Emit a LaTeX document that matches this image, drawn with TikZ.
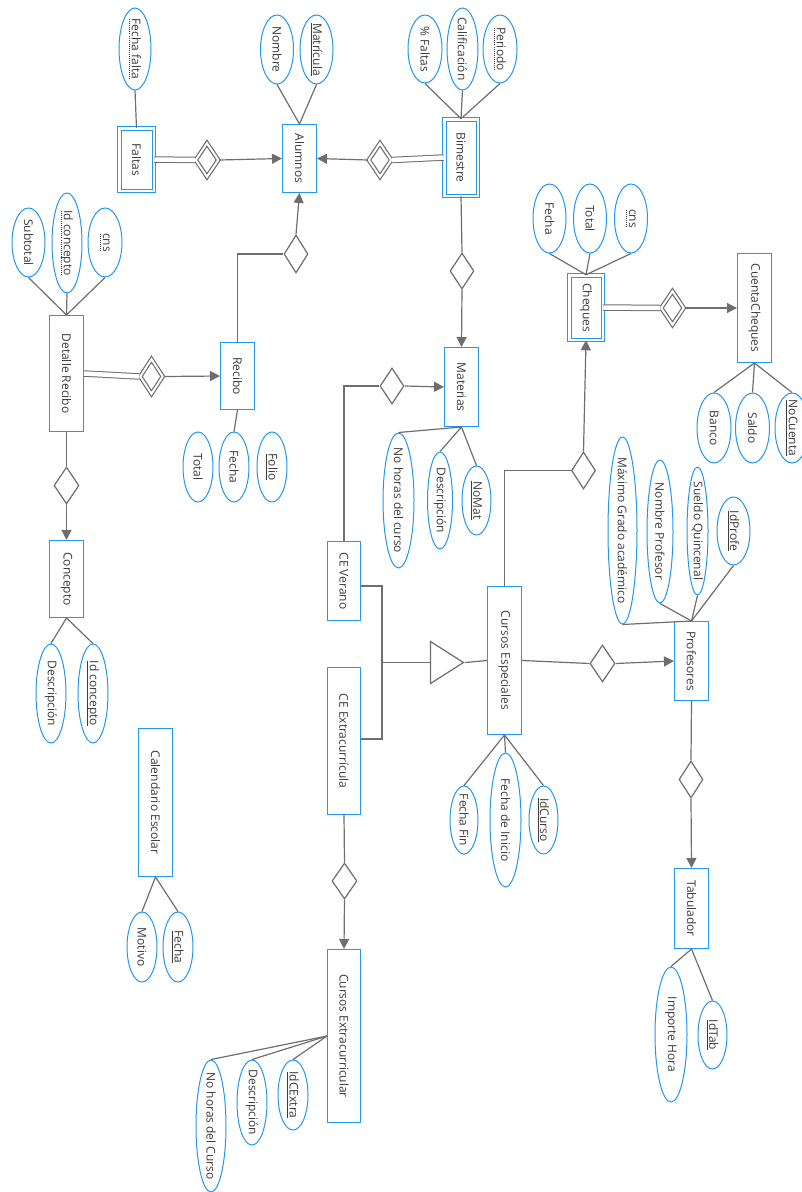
\documentclass[tikz,border=0pt]{standalone}
\usepackage{fontspec}
\setmainfont{Open Sans}
\usetikzlibrary{shapes.geometric,arrows.meta}

\definecolor{erblue}{RGB}{33,150,243}
\definecolor{ergray}{RGB}{110,110,110}
\definecolor{ertext}{RGB}{60,60,60}

\newsavebox{\ulbox}
\newcommand{\vtext}[1]{\rotatebox{-90}{\makebox[0pt]{#1}}}
\newcommand{\pk}[1]{\sbox{\ulbox}{#1}\rlap{\lower2.5pt\hbox{\vrule width\wd\ulbox height 0.7pt}}\usebox{\ulbox}}
\newcommand{\wk}[1]{\sbox{\ulbox}{#1}\rlap{\lower3pt\hbox to \wd\ulbox{\xleaders\hbox to 2pt{\hss\vrule width 0.8pt height 0.8pt\hss}\hfill}}\usebox{\ulbox}}

\begin{document}
\begin{tikzpicture}[
    x=1pt, y=-1pt,
    wh/.style 2 args={minimum width=#1pt, minimum height=#2pt},
    entity/.style={rectangle, draw=erblue, line width=1pt, fill=white, inner sep=0pt, text=ertext, font=\fontsize{12}{14}\selectfont},
    weak/.style={entity, double=white, double distance=2.5pt},
    attr/.style={ellipse, draw=erblue, line width=1pt, fill=white, inner sep=0pt, text=ertext, font=\fontsize{12}{14}\selectfont},
    rel/.style={diamond, draw=ergray, line width=1.2pt, fill=white, inner sep=0pt, wh={24}{36}},
    wrel/.style={rel, double=white, double distance=2pt, wh={23}{34}},
    isa/.style={isosceles triangle, isosceles triangle stretches, shape border rotate=0, draw=ergray, line width=1.2pt, fill=white, inner sep=0pt},
    link/.style={draw=ergray, line width=1.2pt},
    total/.style={draw=ergray, line width=1pt, double=white, double distance=4.5pt},
    arrow/.style={link, -{Triangle[length=10pt,width=10pt]}}
]
\useasboundingbox (0,0) rectangle (801,1192);

% ALUMNOS, FALTAS, BIMESTRE
\node[entity, wh={34}{68}] (alumnos) at (299.5,158.5) {\vtext{Alumnos}};
\node[weak, wh={34.5}{62.5}] (faltas) at (136.5,159.5) {\vtext{Faltas}};
\node[weak, wh={33.5}{76.5}] (bimestre) at (461,157.5) {\vtext{Bimestre}};
\node[wrel] (rfaltas) at (207,160) {};
\node[wrel] (rbim) at (380,160) {};

\node[attr, wh={32}{82}] (ffalta) at (135,49) {\vtext{\wk{Fecha falta}}};
\node[attr, wh={33}{69}] (nombre) at (277,49.5) {\vtext{Nombre}};
\node[attr, wh={33}{69}] (matricula) at (316.5,49.5) {\vtext{\pk{Matrícula}}};
\node[attr, wh={34}{68}] (pfaltas) at (425,49) {\vtext{\% Faltas}};
\node[attr, wh={31}{82}] (calif) at (462.5,49) {\vtext{Calificación}};
\node[attr, wh={34}{68}] (periodo) at (500,49) {\vtext{\wk{Periodo}}};

\draw[link] (faltas.north) -- (ffalta.south);
\draw[link] (alumnos.north) -- (nombre.south);
\draw[link] (alumnos.north) -- (matricula.south);
\draw[link] (bimestre.north) -- (pfaltas.south);
\draw[link] (bimestre.north) -- (calif.south);
\draw[link] (bimestre.north) -- (periodo.south);

\draw[total] (faltas.east) -- (rfaltas.west);
\draw[arrow] (rfaltas.east) -- (alumnos.west);
\draw[total] (bimestre.west) -- (rbim.east);
\draw[arrow] (rbim.west) -- (alumnos.east);

% MATERIAS
\node[rel] (rbimmat) at (462,271) {};
\node[entity, wh={34}{79}] (materias) at (461.5,387) {\vtext{Materias}};
\node[attr, wh={31}{135}] (nohoras) at (398.5,500.5) {\vtext{No horas del curso}};
\node[attr, wh={25}{97}] (matdesc) at (440,500.5) {\vtext{Descripción}};
\node[attr, wh={29}{69}] (nomat) at (476.5,500.5) {\vtext{\pk{NoMat}}};

\draw[link] (bimestre.south) -- (rbimmat.north);
\draw[arrow] (rbimmat.south) -- (materias.north);
\draw[link] (materias.south) -- (nohoras.north);
\draw[link] (materias.south) -- (matdesc.north);
\draw[link] (materias.south) -- (nomat.north);

% CHEQUES
\node[weak, wh={33.5}{64.5}] (cheques) at (586,307.5) {\vtext{Cheques}};
\node[wrel] (rcheq) at (672.5,308) {};
\node[entity, wh={34}{109}] (cuenta) at (754.5,308) {\vtext{CuentaCheques}};
\node[attr, wh={33}{69}] (chfecha) at (549.5,218.5) {\vtext{Fecha}};
\node[attr, wh={33}{69}] (chtotal) at (590,218.5) {\vtext{Total}};
\node[attr, wh={33}{69}] (chcns) at (631,218.5) {\vtext{\wk{cns}}};
\node[attr, wh={34}{70}] (banco) at (714,428) {\vtext{Banco}};
\node[attr, wh={34}{70}] (saldo) at (752.5,428) {\vtext{Saldo}};
\node[attr, wh={34}{70}] (nocuenta) at (792,428) {\vtext{\pk{NoCuenta}}};

\draw[link] (cheques.north) -- (chfecha.south);
\draw[link] (cheques.north) -- (chtotal.south);
\draw[link] (cheques.north) -- (chcns.south);
\draw[total] (cheques.east) -- (rcheq.west);
\draw[arrow] (rcheq.east) -- (cuenta.west);
\draw[link] (cuenta.south) -- (banco.north);
\draw[link] (cuenta.south) -- (saldo.north);
\draw[link] (cuenta.south) -- (nocuenta.north);

% RECIBO Y DETALLE
\node[rel, wh={24}{38}] (rrecibo) at (296,254) {};
\node[entity, wh={34}{67}] (recibo) at (237.5,376) {\vtext{Recibo}};
\node[wrel, wh={23}{35}] (rdetalle) at (151.5,376.5) {};
\node[entity, wh={34}{116}] (detalle) at (66.5,373.5) {\vtext{Detalle Recibo}};
\node[rel, wh={25}{37}] (rconcepto) at (66.5,485.5) {};
\node[entity, wh={34}{77}] (concepto) at (66.5,579) {\vtext{Concepto}};

\node[attr, wh={33}{69}] (subtotal) at (28.5,242.5) {\vtext{Subtotal}};
\node[attr, wh={30}{100}] (idconc) at (67,243) {\vtext{\wk{Id concepto}}};
\node[attr, wh={34}{69}] (drcns) at (105,242.5) {\vtext{\wk{cns}}};
\node[attr, wh={30}{70}] (rtotal) at (198,467) {\vtext{Total}};
\node[attr, wh={30}{70}] (rfecha) at (234,467) {\vtext{Fecha}};
\node[attr, wh={30}{70}] (folio) at (272,467) {\vtext{\pk{Folio}}};
\node[attr, wh={30}{99}] (cdesc) at (51,693.5) {\vtext{Descripción}};
\node[attr, wh={30}{99}] (cidconc) at (93,693.5) {\vtext{\pk{Id concepto}}};

\draw[link] (recibo.north) |- (rrecibo.west);
\draw[arrow] (rrecibo.north) -- (alumnos.south);
\draw[link] (recibo.south) -- (rfecha.north);
\draw[total] (detalle.east) -- (rdetalle.west);
\draw[arrow] (rdetalle.east) -- (recibo.west);
\draw[link] (detalle.north) -- (subtotal.south);
\draw[link] (detalle.north) -- (idconc.south);
\draw[link] (detalle.north) -- (drcns.south);
\draw[link] (detalle.south) -- (rconcepto.north);
\draw[arrow] (rconcepto.south) -- (concepto.north);
\draw[link] (concepto.south) -- (cdesc.north);
\draw[link] (concepto.south) -- (cidconc.north);

% CURSOS ESPECIALES
\node[rel] (rmateria) at (392,386) {};
\node[entity, wh={33}{79}] (verano) at (344,581) {\vtext{CE Verano}};
\node[entity, wh={33}{147}] (extra) at (344,741) {\vtext{CE Extracurrícula}};
\node[isa, wh={42}{33}] (isa) at (442,662.5) {};
\coordinate (isabus) at (382,662.5);
\node[entity, wh={34}{148}] (especiales) at (504.5,660.5) {\vtext{Cursos Especiales}};
\node[rel, wh={24}{37}] (rcheqcur) at (583.5,470.5) {};
\node[attr, wh={28}{68}] (ffin) at (464,820) {\vtext{Fecha Fin}};
\node[attr, wh={31}{134}] (finicio) at (505.5,820) {\vtext{Fecha de Inicio}};
\node[attr, wh={29}{68}] (idcurso) at (543.5,820) {\vtext{\pk{IdCurso}}};

\draw[arrow] (rmateria.east) -- (materias.west);
\draw[link] (rmateria.west) -| (verano.north);
\draw[link] ([yshift=-5pt]verano.east) -| (isabus);
\draw[link] ([yshift=2pt]extra.east) -| (isabus);
\draw[link] (isabus) -- (isa.west);
\draw[link] (isa.east) -- (especiales.west);
\draw[arrow] (rcheqcur.north) -- (cheques.south);
\draw[link] (rcheqcur.west) -| (especiales.north);
\draw[link] (especiales.south) -- (ffin.north);
\draw[link] (especiales.south) -- (finicio.north);
\draw[link] (especiales.south) -- (idcurso.north);

% PROFESORES Y TABULADOR
\node[rel, wh={25}{37}] (rprof) at (602.5,663.5) {};
\node[entity, wh={34}{79}] (profesores) at (691.5,661) {\vtext{Profesores}};
\node[attr, wh={29}{187}] (maximo) at (622.5,530.5) {\vtext{Máximo Grado académico}};
\node[attr, wh={26}{143}] (nomprof) at (660,531.5) {\vtext{Nombre Profesor}};
\node[attr, wh={21}{128}] (sueldo) at (697.5,531) {\vtext{Sueldo Quincenal}};
\node[attr, wh={33}{68}] (idprofe) at (733.5,531) {\vtext{\pk{IdProfe}}};
\node[rel, wh={24}{37}] (rtab) at (691,779.5) {};
\node[entity, wh={34}{80}] (tabulador) at (691.5,908.5) {\vtext{Tabulador}};
\node[attr, wh={32}{135}] (importe) at (671,1034.5) {\vtext{Importe Hora}};
\node[attr, wh={29}{68}] (idtab) at (712.5,1035) {\vtext{\pk{IdTab}}};

\draw[link] (especiales.east) -- (rprof.west);
\draw[arrow] (rprof.east) -- (profesores.west);
\draw[link] (profesores.north) -- (maximo.south);
\draw[link] (profesores.north) -- (nomprof.south);
\draw[link] (profesores.north) -- (sueldo.south);
\draw[link] (profesores.north) -- (idprofe.south);
\draw[link] (profesores.south) -- (rtab.north);
\draw[arrow] (rtab.south) -- (tabulador.north);
\draw[link] (tabulador.south) -- (importe.north);
\draw[link] (tabulador.south) -- (idtab.north);

% CURSOS EXTRACURRICULAR
\node[rel, wh={25}{36}] (rextra) at (344.5,881) {};
\node[entity, wh={33}{173}] (cursoextra) at (344,1036) {\vtext{Cursos Extracurricular}};
\node[attr, wh={30}{70}] (idcextra) at (293,1095) {\vtext{\pk{IdCExtra}}};
\node[attr, wh={30}{85}] (cxdesc) at (252,1102.5) {\vtext{Descripción}};
\node[attr, wh={30}{132}] (cxhoras) at (211,1126) {\vtext{No horas del Curso}};

\draw[link] (extra.south) -- (rextra.north);
\draw[arrow] (rextra.south) -- (cursoextra.north);
\draw[link] (cursoextra.west) -- (idcextra.north);
\draw[link] (cursoextra.west) -- (cxdesc.north);
\draw[link] (cursoextra.west) -- (cxhoras.north);

% CALENDARIO ESCOLAR
\node[entity, wh={34}{148}] (calendario) at (155.5,802.5) {\vtext{Calendario Escolar}};
\node[attr, wh={30}{70}] (motivo) at (142,947) {\vtext{Motivo}};
\node[attr, wh={30}{70}] (calfecha) at (178,947) {\vtext{\pk{Fecha}}};

\draw[link] (calendario.south) -- (motivo.north);
\draw[link] (calendario.south) -- (calfecha.north);

\end{tikzpicture}
\end{document}
